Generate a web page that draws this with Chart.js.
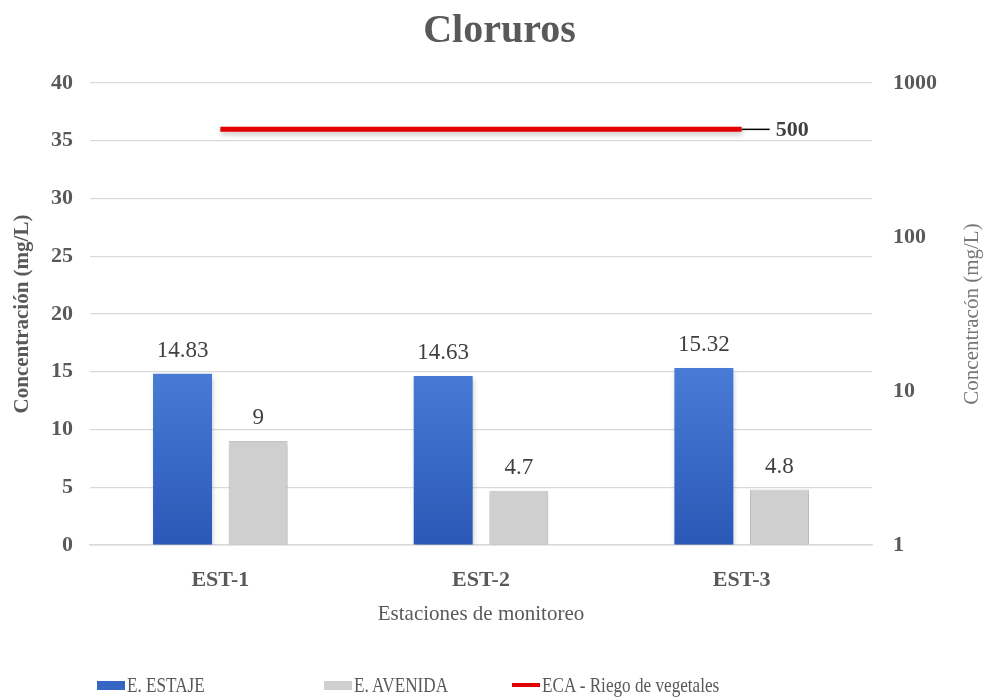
<!DOCTYPE html>
<html>
<head>
<meta charset="utf-8">
<script src="https://cdn.jsdelivr.net/npm/chart.js@4/dist/chart.umd.min.js"></script>
<style>
  html, body { margin: 0; padding: 0; background: #fff; }
  #wrap { position: relative; width: 989px; height: 699px; }
  #legend { position: absolute; left: 0; top: 672px; width: 989px; height: 26px; font-family: "Liberation Serif", serif; font-size: 22px; color: #595959; }
  .item { position: absolute; top: 0; height: 26px; }
  .swatch { position: absolute; top: 9px; width: 28px; height: 9px; }
  .swatch.line { top: 11px; height: 4px; }
  .label { position: absolute; left: 30px; top: 0; line-height: 26px; white-space: nowrap; transform: scaleX(0.78); transform-origin: left center; }
</style>
</head>
<body>
<div id="wrap">
  <canvas id="chart" width="989" height="699"></canvas>
  <div id="legend"></div>
</div>
<script>
const chartTitle = 'Cloruros';
const categories = ['EST-1', 'EST-2', 'EST-3'];
const estiaje = [14.83, 14.63, 15.32];
const avenida = [9, 4.7, 4.8];
const ecaLimit = [500, 500, 500];
const seriesNames = ['E. ESTAJE', 'E. AVENIDA', 'ECA - Riego de vegetales'];
const rightTicks = [1, 10, 100, 1000];
const leftTitle = 'Concentración (mg/L)';
const rightTitle = 'Concentracón (mg/L)';
const xTitle = 'Estaciones de monitoreo';

const serif = '"Liberation Serif", "Times New Roman", serif';
const textGray = '#595959';

function blueFill(c) {
    const chart = c.chart;
    const y = chart.scales.y;
    if (!y || !chart.chartArea) return '#3a6cc9';
    const g = chart.ctx.createLinearGradient(0, y.getPixelForValue(0), 0, y.getPixelForValue(16));
    g.addColorStop(0, '#2a58b6');
    g.addColorStop(1, '#4a7dd8');
    return g;
}

// soft shadow under bars and line
const shadowPlugin = {
    id: 'shadows',
    beforeDatasetDraw(chart, args) {
        const ctx = chart.ctx;
        ctx.save();
        ctx.shadowColor = 'rgba(0,0,0,0.22)';
        ctx.shadowBlur = 5;
        ctx.shadowOffsetX = 1;
        ctx.shadowOffsetY = 3;
    },
    afterDatasetDraw(chart) {
        chart.ctx.restore();
    }
};

// values above bars + label at end of the ECA line
const labelPlugin = {
    id: 'valueLabels',
    afterDatasetsDraw(chart) {
        const ctx = chart.ctx;
        ctx.save();
        chart.data.datasets.forEach((ds, i) => {
            const meta = chart.getDatasetMeta(i);
            if (meta.type === 'bar') {
                ctx.font = '23px ' + serif;
                ctx.fillStyle = '#404040';
                ctx.textAlign = 'center';
                ctx.textBaseline = 'alphabetic';
                meta.data.forEach((el, j) => {
                    ctx.fillText(String(ds.data[j]), el.x, el.y - 17);
                });
            } else if (meta.type === 'line') {
                const last = meta.data[meta.data.length - 1];
                ctx.strokeStyle = '#000';
                ctx.lineWidth = 1.5;
                ctx.beginPath();
                ctx.moveTo(last.x, last.y);
                ctx.lineTo(last.x + 28, last.y);
                ctx.stroke();
                ctx.font = 'bold 22px ' + serif;
                ctx.fillStyle = '#404040';
                ctx.textAlign = 'left';
                ctx.textBaseline = 'middle';
                ctx.fillText(String(ds.data[ds.data.length - 1]), last.x + 34, last.y + 1);
            }
        });
        // right axis title, reading bottom to top
        const a = chart.chartArea;
        ctx.translate(972, (a.top + a.bottom) / 2);
        ctx.rotate(-Math.PI / 2);
        ctx.font = '21px ' + serif;
        ctx.fillStyle = '#767676';
        ctx.textAlign = 'center';
        ctx.textBaseline = 'middle';
        ctx.fillText(rightTitle, 0, 0);
        ctx.restore();
    }
};

const chart = new Chart(document.getElementById('chart'), {
    data: {
        labels: categories,
        datasets: [
            {
                type: 'line',
                label: seriesNames[2],
                data: ecaLimit,
                yAxisID: 'y1',
                borderColor: '#e30000',
                borderWidth: 5,
                borderCapStyle: 'butt',
                pointRadius: 0,
                fill: false,
                order: 0
            },
            {
                type: 'bar',
                label: seriesNames[0],
                data: estiaje,
                yAxisID: 'y',
                backgroundColor: blueFill,
                categoryPercentage: 0.58,
                barPercentage: 0.78,
                order: 1
            },
            {
                type: 'bar',
                label: seriesNames[1],
                data: avenida,
                yAxisID: 'y',
                backgroundColor: '#d0cfcf',
                borderColor: '#c4c4c4',
                borderWidth: 1,
                categoryPercentage: 0.58,
                barPercentage: 0.78,
                order: 1
            }
        ]
    },
    options: {
        responsive: false,
        animation: false,
        layout: { padding: { left: 10, right: 0, top: 0, bottom: 72 } },
        plugins: {
            legend: { display: false },
            tooltip: { enabled: false },
            title: {
                display: true,
                text: chartTitle,
                color: textGray,
                font: { family: serif, size: 40, weight: 'bold' },
                padding: { top: 8, bottom: 27 }
            }
        },
        scales: {
            x: {
                grid: { display: false, drawTicks: false },
                border: { color: '#d9d9d9', width: 1.5 },
                ticks: { color: textGray, font: { family: serif, size: 22, weight: 'bold' }, padding: 22 },
                title: { display: true, text: xTitle, color: textGray, font: { family: serif, size: 21 }, padding: 0 },
                afterFit: s => { s.height = 82; }
            },
            y: {
                position: 'left',
                min: 0,
                max: 40,
                grid: { color: '#d9d9d9', lineWidth: 1.2, drawTicks: false },
                border: { display: false },
                ticks: { stepSize: 5, color: textGray, font: { family: serif, size: 22, weight: 'bold' }, padding: 17 },
                title: { display: true, text: leftTitle, color: textGray, font: { family: serif, size: 21, weight: 'bold' }, padding: 0 },
                afterFit: s => { s.width = 80; }
            },
            y1: {
                type: 'logarithmic',
                position: 'right',
                min: 1,
                max: 1000,
                grid: { display: false, drawTicks: false },
                border: { display: false },
                afterBuildTicks: s => { s.ticks = rightTicks.map(v => ({ value: v })); },
                ticks: { color: textGray, font: { family: serif, size: 22, weight: 'bold' }, padding: 21, callback: v => String(v) },
                afterFit: s => { s.width = 117; }
            }
        }
    },
    plugins: [shadowPlugin, labelPlugin]
});

// legend below the plot, built from the datasets
const legendPos = [97, 324, 512];
const legendOrder = [1, 2, 0];
const swatchColors = ['#3566c4', '#d0cfcf', '#e30000'];
const legend = document.getElementById('legend');
legendOrder.forEach((dsIndex, k) => {
    const ds = chart.data.datasets[dsIndex];
    const item = document.createElement('div');
    item.className = 'item';
    item.style.left = legendPos[k] + 'px';
    const sw = document.createElement('div');
    sw.className = 'swatch' + (ds.type === 'line' ? ' line' : '');
    sw.style.background = swatchColors[k];
    const lb = document.createElement('span');
    lb.className = 'label';
    lb.textContent = ds.label;
    item.appendChild(sw);
    item.appendChild(lb);
    legend.appendChild(item);
});
</script>
</body>
</html>
